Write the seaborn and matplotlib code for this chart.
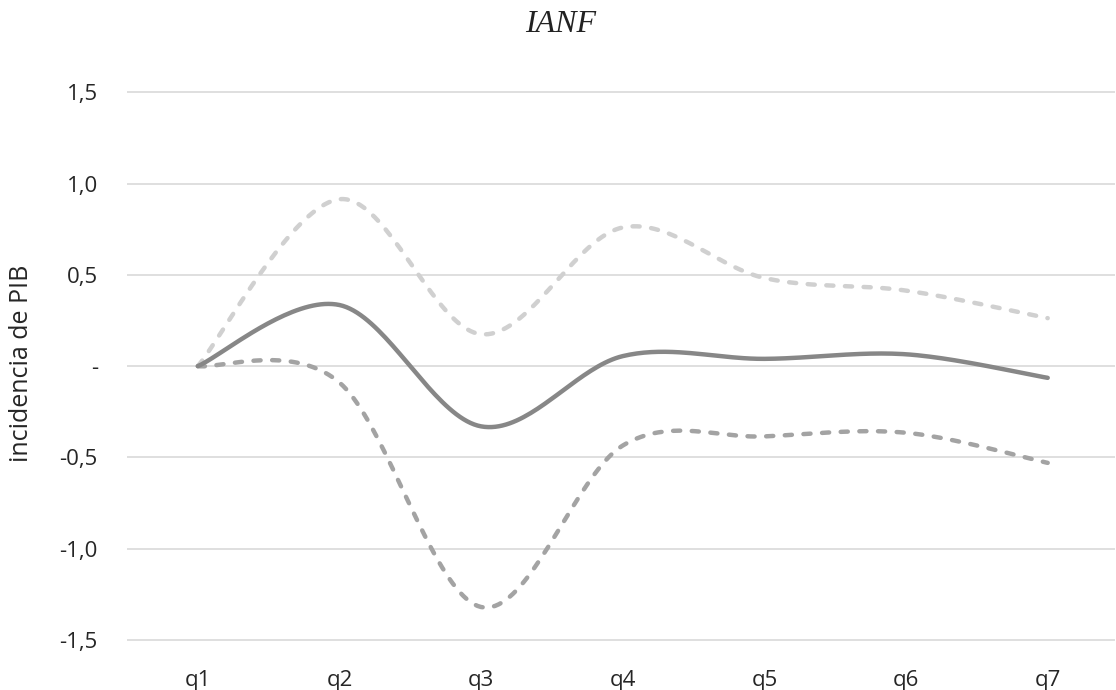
import numpy as np
import pandas as pd
import matplotlib
matplotlib.use("Agg")
import matplotlib.pyplot as plt
import seaborn as sns

# ---- data ----
categorias = ["q1", "q2", "q3", "q4", "q5", "q6", "q7"]
central = [0.0, 0.335, -0.33, 0.055, 0.04, 0.065, -0.064]
superior = [0.0, 0.915, 0.175, 0.76, 0.483, 0.414, 0.263]
inferior = [0.0, -0.09, -1.32, -0.435, -0.385, -0.365, -0.53]
yticks = [1.5, 1.0, 0.5, 0.0, -0.5, -1.0, -1.5]
ytick_labels = ["1,5", "1,0", "0,5", "-", "-0,5", "-1,0", "-1,5"]
titulo = "IANF"
ylabel = "incidencia de PIB"


def smooth(xs, ys, n=40):
    """Excel-like smoothed line (Catmull-Rom Bezier through the points)."""
    P = np.column_stack([xs, ys]).astype(float)
    out = []
    m = len(P)
    for i in range(m - 1):
        p0 = P[i]
        p3 = P[i + 1]
        pm = P[i - 1] if i > 0 else P[i]
        pp = P[i + 2] if i + 2 < m else P[i + 1]
        c1 = p0 + (p3 - pm) / 6.0
        c2 = p3 - (pp - p0) / 6.0
        t = np.linspace(0, 1, n, endpoint=(i == m - 2))[:, None]
        b = ((1 - t) ** 3) * p0 + 3 * ((1 - t) ** 2) * t * c1 + 3 * (1 - t) * t ** 2 * c2 + t ** 3 * p3
        out.append(b)
    out = np.vstack(out)
    return out[:, 0], out[:, 1]


sns.set_theme(style="white")
plt.rcParams["font.family"] = ["Open Sans", "DejaVu Sans"]

fig = plt.figure(figsize=(11.16, 6.9), dpi=100)
ax = fig.add_axes([127 / 1116, 41 / 690, 988 / 1116, 565.7 / 690])

xpos = np.arange(len(categorias))
series = [
    (superior, "#d0d0d0", True),
    (inferior, "#a3a3a3", True),
    (central, "#878787", False),
]
for vals, color, dashed in series:
    sx, sy = smooth(xpos, vals)
    df = pd.DataFrame({"x": sx, "y": sy})
    sns.lineplot(data=df, x="x", y="y", sort=False, color=color,
                 linewidth=3.2, ax=ax, estimator=None)
    ln = ax.lines[-1]
    ln.set_solid_capstyle("round")
    if dashed:
        ln.set_dashes((1.6, 2.6))
        ln.set_dash_capstyle("round")

ax.set_xlim(-0.5, 6.475)
ax.set_ylim(-1.55, 1.55)
ax.set_xticks(xpos)
ax.set_xticklabels(categorias)
ax.set_yticks(yticks)
ax.set_yticklabels(ytick_labels)
ax.tick_params(axis="both", length=0, labelsize=16, colors="#262626")
ax.tick_params(axis="y", pad=21)
ax.tick_params(axis="x", pad=15)
for s in ax.spines.values():
    s.set_visible(False)
ax.yaxis.grid(True, color="#d9d9d9", linewidth=1.2)
ax.xaxis.grid(False)
ax.set_axisbelow(True)
ax.set_xlabel("")
ax.set_ylabel(ylabel, fontsize=18, color="#262626")
ax.yaxis.set_label_coords(-0.094, 0.505)

fig.text(0.502, 1 - 25 / 690, titulo, ha="center", va="center",
         family="Liberation Serif", style="italic", fontsize=23, color="#222222")

fig.savefig("out.png", dpi=100)
